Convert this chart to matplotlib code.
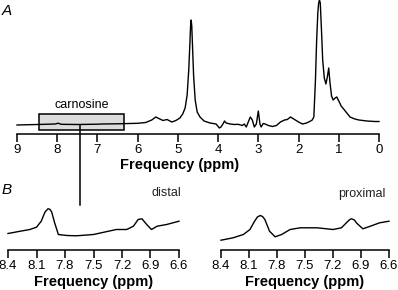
import matplotlib
matplotlib.use("Agg")
import matplotlib.pyplot as plt
from matplotlib.patches import Rectangle

plt.rcParams['font.family'] = ['Liberation Sans', 'DejaVu Sans']

# ---- Panel A: full spectrum (ppm, intensity in arbitrary units) ----
ppm_a = [9.0, 8.5, 8.05, 7.98, 7.9, 7.5, 7.0, 6.9, 6.5, 6.2, 6.0, 5.8, 5.65, 5.55,
         5.45, 5.37, 5.27, 5.15, 5.05, 4.95, 4.88, 4.82, 4.77, 4.73, 4.70, 4.685,
         4.67, 4.655, 4.64, 4.61, 4.57, 4.52, 4.45, 4.35, 4.2, 4.05, 4.00, 3.97,
         3.93, 3.88, 3.84, 3.80, 3.7, 3.6, 3.5, 3.4, 3.35, 3.3, 3.25, 3.2, 3.15,
         3.1, 3.05, 3.0, 2.96, 2.93, 2.88, 2.83, 2.75, 2.65, 2.55, 2.45, 2.35,
         2.28, 2.2, 2.1, 2.0, 1.9, 1.8, 1.7, 1.66, 1.62, 1.58, 1.55, 1.52, 1.50,
         1.48, 1.46, 1.43, 1.40, 1.36, 1.32, 1.28, 1.25, 1.22, 1.18, 1.14, 1.09,
         1.05, 1.00, 0.94, 0.88, 0.84, 0.78, 0.72, 0.6, 0.5, 0.3, 0.1, 0.0]
ypix_a = [125, 124.5, 124, 123.2, 124.3, 124.5, 124.2, 124, 123.8, 123.5, 123.3,
          122.5, 120, 117, 119, 120.5, 119.5, 122, 120.5, 118, 114, 108, 95, 70,
          42, 26, 20, 26, 42, 75, 100, 112, 117, 121, 123, 124, 126.5, 128, 127,
          124, 121, 123, 124, 124.5, 124.3, 125.5, 124, 127, 122, 117, 120, 127,
          124, 111, 124, 127, 123.5, 124, 125.5, 126.5, 125.5, 122, 120, 119.5,
          117, 119.5, 122, 124, 123, 121, 120, 117, 80, 40, 12, 3, 0, 3, 30, 60,
          78, 84, 76, 68, 82, 96, 100, 98, 97, 101, 106, 109, 111, 114, 117, 119,
          120, 121, 121.5, 121.5]
int_a = [125 - v for v in ypix_a]

# ---- Panel B: carnosine region ----
ppm_distal = [8.40, 8.27, 8.17, 8.10, 8.05, 8.03, 8.01, 7.98, 7.96, 7.94, 7.91,
              7.87, 7.78, 7.68, 7.50, 7.26, 7.15, 7.08, 7.03, 6.99, 6.94, 6.89,
              6.83, 6.73, 6.60]
int_distal = [16, 18.3, 20, 22.3, 28.3, 33, 37.5, 40.7, 40.3, 37.5, 27, 15, 14,
              13.7, 15, 20, 20, 23.3, 30, 30.7, 25, 20, 23.3, 25, 28.3]
ppm_proximal = [8.40, 8.27, 8.16, 8.09, 8.04, 8.01, 7.98, 7.955, 7.93, 7.88,
                7.82, 7.75, 7.66, 7.55, 7.37, 7.20, 7.11, 7.05, 7.02, 7.00, 6.97,
                6.95, 6.88, 6.80, 6.70, 6.60]
int_proximal = [9.3, 11.7, 15, 20, 28.3, 32.5, 34, 33, 30, 18.3, 12.7, 15, 20,
                21.7, 21.7, 20, 21.7, 27.3, 30, 30.7, 29.5, 26.7, 20.7, 23.3, 26.7,
                28.3]

ticks_a = [9, 8, 7, 6, 5, 4, 3, 2, 1, 0]
ticks_b = [8.4, 8.1, 7.8, 7.5, 7.2, 6.9, 6.6]
tick_labels_b = ['8.4', '8.1', '7.8', '7.5', '7.2', '6.9', '6.6']

W, H = 398, 290
fig = plt.figure(figsize=(W / 100, H / 100), dpi=100)

def style(ax, ticks, labels=None):
    for s in ['top', 'right', 'left']:
        ax.spines[s].set_visible(False)
    ax.spines['bottom'].set_linewidth(1.1)
    ax.set_yticks([])
    ax.set_xticks(ticks)
    if labels is not None:
        ax.set_xticklabels(labels)
    ax.tick_params(axis='x', direction='out', length=5.5, width=1.1,
                   labelsize=9.5, pad=2.0)
    ax.patch.set_visible(False)

# Panel A axes
axA = fig.add_axes([17 / W, 1 - 134 / H, 362 / W, 134 / H])
axA.plot(ppm_a, int_a, color='black', lw=1.0, clip_on=False, zorder=3)
axA.set_xlim(9, 0)
axA.set_ylim(-9, 125)
style(axA, ticks_a)
axA.set_xlabel('Frequency (ppm)', fontsize=10.5, fontweight='bold')
axA.xaxis.label.set_va('center')
axA.xaxis.set_label_coords((180 - 17) / 362, -(165 - 134) / 134)
axA.add_patch(Rectangle((6.35, -5), 2.1, 16, facecolor='#dcdcdc',
                        edgecolor='black', lw=1.1, zorder=2))
axA.text(7.4, 20, 'carnosine', ha='center', va='center', fontsize=9)
axA.plot([7.43, 7.43], [0, -80], color='black', lw=1.1, clip_on=False, zorder=3)

# Panel B axes
for left, width, xs, ys, name, nx in [
        (8, 171, ppm_distal, int_distal, 'distal', 166),
        (221, 168, ppm_proximal, int_proximal, 'proximal', 362)]:
    ax = fig.add_axes([left / W, 1 - 249.5 / H, width / W, 50 / H])
    ax.plot(xs, ys, color='black', lw=1.0, clip_on=False)
    ax.set_xlim(8.4, 6.6)
    ax.set_ylim(0, 50)
    style(ax, ticks_b, tick_labels_b)
    ax.set_xlabel('Frequency (ppm)', fontsize=10.5, fontweight='bold')
    ax.xaxis.label.set_va('center')
    ax.xaxis.set_label_coords(0.5, -(282 - 249.5) / 50)
    fig.text(nx / W, 1 - 193.5 / H, name, ha='center', va='center',
             fontsize=9, color='#222222')

fig.text(7 / W, 1 - 11 / H, 'A', ha='center', va='center', fontsize=11, style='italic')
fig.text(7 / W, 1 - 189.5 / H, 'B', ha='center', va='center', fontsize=11, style='italic')

fig.savefig('out.png', dpi=100)
